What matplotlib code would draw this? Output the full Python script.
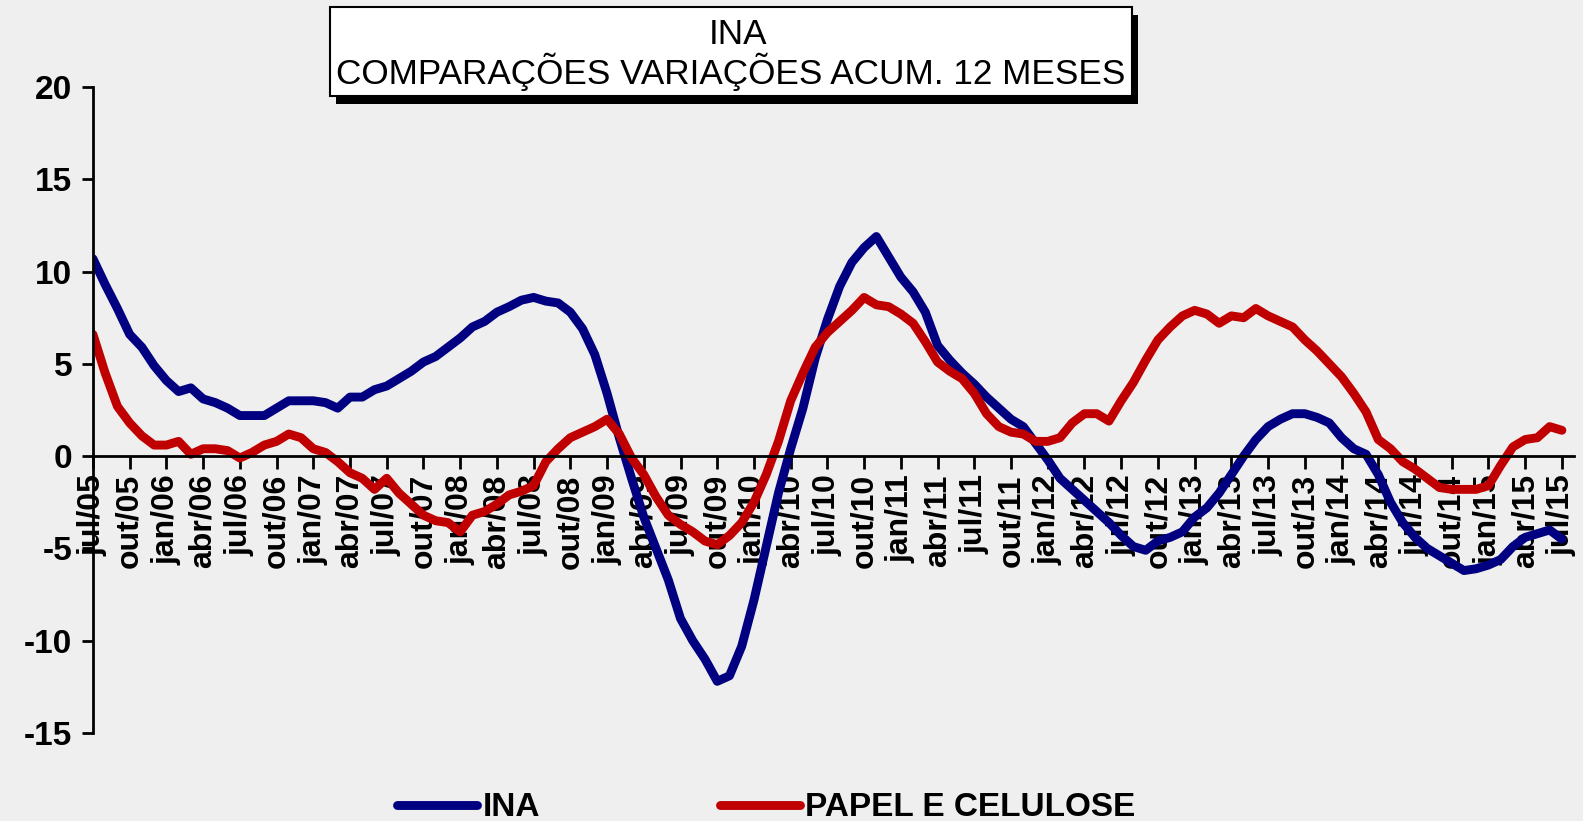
import matplotlib
matplotlib.use("Agg")
import matplotlib.pyplot as plt
from matplotlib import font_manager
from matplotlib.patches import Rectangle

# monthly data, jul/05 .. jul/15 (12-month accumulated variation, %)
ina = [10.7, 9.3, 8.0, 6.6, 5.9, 4.9, 4.1, 3.5, 3.7, 3.1,
       2.9, 2.6, 2.2, 2.2, 2.2, 2.6, 3.0, 3.0, 3.0, 2.9,
       2.6, 3.2, 3.2, 3.6, 3.8, 4.2, 4.6, 5.1, 5.4, 5.9,
       6.4, 7.0, 7.3, 7.8, 8.1, 8.45, 8.6, 8.4, 8.3, 7.8,
       6.9, 5.5, 3.4, 1.0, -1.2, -3.3, -5.0, -6.7, -8.8, -10.0,
       -11.0, -12.2, -11.9, -10.3, -7.8, -4.9, -2.0, 0.4, 2.6, 5.3,
       7.4, 9.2, 10.5, 11.3, 11.9, 10.8, 9.7, 8.9, 7.8, 6.0,
       5.2, 4.5, 3.9, 3.2, 2.6, 2.0, 1.6, 0.7, -0.2, -1.2,
       -1.8, -2.4, -3.0, -3.6, -4.3, -4.9, -5.1, -4.6, -4.4, -4.1,
       -3.3, -2.8, -2.0, -1.0, 0.0, 0.9, 1.6, 2.0, 2.3, 2.3,
       2.1, 1.8, 1.0, 0.4, 0.1, -1.0, -2.5, -3.6, -4.4, -5.0,
       -5.4, -5.8, -6.2, -6.1, -5.9, -5.6, -4.9, -4.4, -4.2, -4.0,
       -4.5]
papel = [6.6, 4.5, 2.7, 1.8, 1.1, 0.6, 0.6, 0.8, 0.1, 0.4,
         0.4, 0.3, -0.1, 0.2, 0.6, 0.8, 1.2, 1.0, 0.4, 0.2,
         -0.3, -0.9, -1.2, -1.8, -1.2, -2.0, -2.6, -3.2, -3.5, -3.6,
         -4.1, -3.2, -3.0, -2.6, -2.1, -1.9, -1.6, -0.3, 0.4, 1.0,
         1.3, 1.6, 2.0, 1.2, -0.1, -1.0, -2.2, -3.2, -3.7, -4.1,
         -4.6, -4.8, -4.3, -3.6, -2.5, -1.0, 0.8, 3.0, 4.5, 5.9,
         6.7, 7.3, 7.9, 8.6, 8.2, 8.1, 7.7, 7.2, 6.2, 5.1,
         4.6, 4.2, 3.4, 2.3, 1.6, 1.3, 1.2, 0.8, 0.8, 1.0,
         1.8, 2.3, 2.3, 1.9, 3.0, 4.0, 5.2, 6.3, 7.0, 7.6,
         7.9, 7.7, 7.2, 7.6, 7.5, 8.0, 7.6, 7.3, 7.0, 6.3,
         5.7, 5.0, 4.3, 3.4, 2.4, 0.9, 0.4, -0.3, -0.7, -1.2,
         -1.7, -1.8, -1.8, -1.8, -1.6, -0.5, 0.5, 0.9, 1.0, 1.6,
         1.4]
months = list(range(len(ina)))

month_names = ["jul", "out", "jan", "abr"]
tick_pos = list(range(0, 121, 3))
tick_labels = []
for i, p in enumerate(tick_pos):
    year = 5 + (p + 6) // 12
    tick_labels.append(f"{month_names[i % 4]}/{year:02d}")

y_ticks = [-15, -10, -5, 0, 5, 10, 15, 20]

BG = "#efefef"
BLUE = "#000080"
RED = "#c00000"

try:
    font_manager.findfont("Liberation Sans Narrow", fallback_to_default=False)
    title_font, title_size = "Liberation Sans Narrow", 30
except Exception:
    title_font, title_size = "Liberation Sans", 25.3

plt.rcParams["font.family"] = ["Liberation Sans", "DejaVu Sans"]

fig = plt.figure(figsize=(15.83, 8.21), dpi=100, facecolor=BG)
ax = fig.add_axes([0.0587, 0.1072, 0.9357, 0.7868])
ax.set_facecolor("none")

l1, = ax.plot(months, ina, color=BLUE, lw=6.4, solid_joinstyle="round",
              solid_capstyle="round", label="INA")
l2, = ax.plot(months, papel, color=RED, lw=6.4, solid_joinstyle="round",
              solid_capstyle="round", label="PAPEL E CELULOSE")

ax.set_xlim(0, 121)
ax.set_ylim(-15, 20)
ax.spines["top"].set_visible(False)
ax.spines["right"].set_visible(False)
ax.spines["bottom"].set_position(("data", 0))
ax.spines["bottom"].set_linewidth(2)
ax.spines["left"].set_linewidth(2)

ax.set_yticks(y_ticks)
ax.set_yticklabels([str(v) for v in y_ticks], fontsize=24, fontweight="bold")
ax.tick_params(axis="y", direction="out", length=8, width=2, pad=7)

ax.set_xticks(tick_pos)
ax.set_xticklabels(tick_labels, rotation=90, fontsize=23, fontweight="bold",
                   ha="center", va="top")
ax.tick_params(axis="x", direction="out", length=9, width=2, pad=4)

# title box with drop shadow
fig.patches.append(Rectangle((0.2123, 0.8734), 0.5066, 0.1084, transform=fig.transFigure,
                             facecolor="black", edgecolor="none", zorder=1))
fig.patches.append(Rectangle((0.2085, 0.8831), 0.5066, 0.1084, transform=fig.transFigure,
                             facecolor="white", edgecolor="black", lw=1.5, zorder=2))
fig.text(0.466, 0.958, "INA", ha="center", va="center", fontsize=title_size,
         family=title_font, zorder=3)
fig.text(0.4615, 0.913, "COMPARAÇÕES VARIAÇÕES ACUM. 12 MESES", ha="center",
         va="center", fontsize=title_size, family=title_font, zorder=3)

leg = fig.legend(handles=[l1, l2], loc="center", bbox_to_anchor=(0.484, 0.016),
                 ncol=2, frameon=False, prop={"size": 24, "weight": "bold"},
                 handlelength=2.4, handletextpad=0.15, columnspacing=5.4)

fig.savefig("out.png", dpi=100, facecolor=BG)
